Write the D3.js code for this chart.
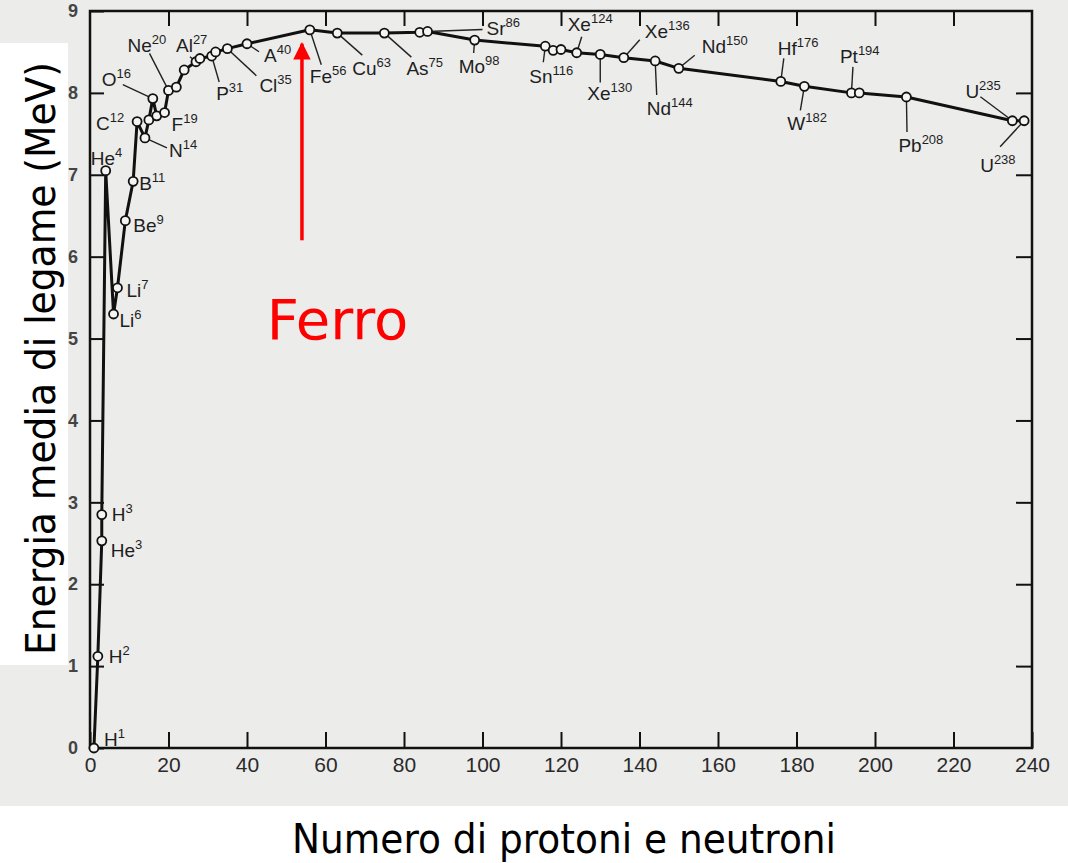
<!DOCTYPE html>
<html>
<head>
<meta charset="utf-8">
<script src="https://cdn.jsdelivr.net/npm/d3@7"></script>
<style>
  body { margin: 0; background: #ffffff; }
  svg { display: block; }
  .tick text { font-family: "Liberation Sans", Arial, sans-serif; fill: #2a2a2a; }
  .tick line { stroke: #111; stroke-width: 2; }
  .axis path.domain { display: none; }
  .iso { font-family: "Liberation Sans", Arial, sans-serif; fill: #1e1e1e; }
</style>
</head>
<body>
<svg id="chart" width="1068" height="863"></svg>
<script>
// numero di massa (A) e energia di legame media per nucleone (MeV)
var massNumbers = [1, 2, 3, 3, 4, 6, 7, 9, 11, 12, 14, 15, 16, 17, 19, 20, 22, 24, 27, 28,
    31, 32, 35, 40, 56, 63, 75, 84, 86, 98, 116, 118, 120, 124, 130, 136, 144, 150, 176, 182,
    194, 196, 208, 235, 238];
var bindingEnergy = [0, 1.12, 2.53, 2.85, 7.05, 5.30, 5.62, 6.44, 6.92, 7.65, 7.45, 7.67, 7.93, 7.72, 7.76, 8.03, 8.07, 8.28, 8.38, 8.42,
    8.45, 8.50, 8.54, 8.60, 8.77, 8.73, 8.73, 8.74, 8.75, 8.645, 8.57, 8.52, 8.53, 8.49, 8.47, 8.43, 8.39, 8.30, 8.14, 8.08,
    8.00, 8.00, 7.95, 7.66, 7.66];
var symbols = ["H", "H", "He", "H", "He", "Li", "Li", "Be", "B", "C", "N", "", "O", "", "F", "Ne", "", "", "Al", "",
    "P", "", "Cl", "A", "Fe", "Cu", "As", "", "Sr", "Mo", "Sn", "", "", "Xe", "Xe", "Xe", "Nd", "Nd", "Hf", "W",
    "Pt", "", "Pb", "U", "U"];

var xTicks = [0, 20, 40, 60, 80, 100, 120, 140, 160, 180, 200, 220, 240];
var yTicks = [0, 1, 2, 3, 4, 5, 6, 7, 8, 9];

// posizione delle etichette: [dx, dy, fine del trattino dx, dy] in pixel dal punto
var labelLayout = {
    "H1": [10, -2], "H2": [11, 7], "He3": [9, 16], "H3": [10, 6], "He4": [-15, -6],
    "Li6": [6, 13], "Li7": [9, 9], "Be9": [8, 11], "B11": [6, 9], "C12": [-41, 8.5],
    "N14": [24, 19, 22, 10], "O16": [-51, -13, -30, -14], "F19": [7, 18],
    "Ne20": [-41, -38, -19, -37], "Al27": [-20, -10, -6, -5], "P31": [4.5, 44, 7.5, 26],
    "Cl35": [32, 43, 29, 27], "A40": [17, 18, 12, 8], "Fe56": [0, 53, 11.5, 35],
    "Cu63": [15, 42, 25, 22], "As75": [22, 42, 27, 24], "Sr86": [59, 4, 55, -2],
    "Mo98": [-16, 33, -1, 13], "Sn116": [-16, 37, -2, 16], "Xe124": [-9, -22, 5, -16],
    "Xe130": [-13, 46, 0, 28], "Xe136": [21, -20, 16, -18], "Nd144": [-8.5, 54, 1.5, 34],
    "Nd150": [23, -15, 16, -13], "Hf176": [-3, -26, 3, -23], "W182": [-17, 44, -4, 24],
    "Pt194": [-11.5, -30, 1.5, -26], "Pb208": [-8, 55, 0.6, 35],
    "U235": [-47, -23, -32, -24], "U238": [-44, 51, -24, 26]
};

var data = massNumbers.map(function (a, i) {
    return {a: a, e: bindingEnergy[i], sym: symbols[i]};
});

var svg = d3.select("#chart"),
    width = +svg.attr("width"),
    height = +svg.attr("height"),
    margin = {top: 11, right: 36, bottom: 115, left: 90};

var x = d3.scaleLinear()
    .domain([0, 240])
    .range([margin.left, width - margin.right]);

var y = d3.scaleLinear()
    .domain([0, 9])
    .range([height - margin.bottom, margin.top]);

// sfondo "scansione"
svg.append("rect").attr("width", width).attr("height", height).attr("fill", "#ececeb");
svg.append("rect").attr("x", 0).attr("y", 43).attr("width", 68).attr("height", 622).attr("fill", "#fff");
svg.append("rect").attr("x", 0).attr("y", 806).attr("width", width).attr("height", height - 806).attr("fill", "#fff");

// assi con tacche verso l'interno
svg.append("g")
    .attr("class", "axis")
    .attr("transform", "translate(0," + y(0) + ")")
    .call(d3.axisBottom(x).tickValues(xTicks).tickSizeInner(-16).tickSizeOuter(0).tickPadding(9))
    .selectAll("text").style("font-size", "21px");

svg.append("g")
    .attr("class", "axis")
    .attr("transform", "translate(0," + y(9) + ")")
    .call(d3.axisTop(x).tickValues(xTicks.slice(1, -1)).tickSizeInner(-15).tickSizeOuter(0).tickFormat(""));

svg.append("g")
    .attr("class", "axis")
    .attr("transform", "translate(" + x(0) + ",0)")
    .call(d3.axisLeft(y).tickValues(yTicks).tickSizeInner(-14).tickSizeOuter(0).tickPadding(12))
    .selectAll("text").style("font-size", "18px").style("font-weight", "bold").style("fill", "#444");

svg.append("g")
    .attr("class", "axis")
    .attr("transform", "translate(" + x(240) + ",0)")
    .call(d3.axisRight(y).tickValues(yTicks.slice(1, -1)).tickSizeInner(-16).tickSizeOuter(0).tickFormat(""));

svg.append("rect")
    .attr("x", x(0))
    .attr("y", y(9))
    .attr("width", x(240) - x(0))
    .attr("height", y(0) - y(9))
    .attr("fill", "none")
    .attr("stroke", "#111")
    .attr("stroke-width", 2.5);

// curva
var line = d3.line()
    .x(function (d) { return x(d.a); })
    .y(function (d) { return y(d.e); });

svg.append("path")
    .datum(data)
    .attr("d", line)
    .attr("fill", "none")
    .attr("stroke", "#111")
    .attr("stroke-width", 3)
    .attr("stroke-linejoin", "round");

// etichette con trattini
var labelled = data.filter(function (d) { return d.sym !== ""; });

labelled.forEach(function (d) {
    var lay = labelLayout[d.sym + d.a];
    if (!lay) return;
    var px = x(d.a), py = y(d.e);
    if (lay.length > 2) {
        svg.append("line")
            .attr("x1", px).attr("y1", py)
            .attr("x2", px + lay[2]).attr("y2", py + lay[3])
            .attr("stroke", "#222")
            .attr("stroke-width", 1.4);
    }
    var t = svg.append("text")
        .attr("class", "iso")
        .attr("x", px + lay[0])
        .attr("y", py + lay[1])
        .style("font-size", "19px");
    t.append("tspan").text(d.sym);
    t.append("tspan")
        .attr("dy", -8)
        .style("font-size", "13px")
        .text(d.a);
});

svg.selectAll("circle.pt")
    .data(data)
    .enter()
    .append("circle")
    .attr("class", "pt")
    .attr("cx", function (d) { return x(d.a); })
    .attr("cy", function (d) { return y(d.e); })
    .attr("r", 4.5)
    .attr("fill", "#f4f4f2")
    .attr("stroke", "#111")
    .attr("stroke-width", 1.8);

// freccia "Ferro"
svg.append("defs").append("marker")
    .attr("id", "head")
    .attr("viewBox", "0 0 10 10")
    .attr("refX", 9).attr("refY", 5)
    .attr("markerWidth", 5).attr("markerHeight", 6)
    .attr("orient", "auto")
    .append("path")
    .attr("d", "M0,0 L10,5 L0,10 Z")
    .attr("fill", "#ff0000");

svg.append("line")
    .attr("x1", x(54)).attr("y1", y(6.2))
    .attr("x2", x(54)).attr("y2", y(8.6))
    .attr("stroke", "#ff0000")
    .attr("stroke-width", 3.5)
    .attr("marker-end", "url(#head)");

svg.append("text")
    .attr("x", x(45))
    .attr("y", y(5.0))
    .attr("fill", "#ff0000")
    .style("font-family", "'DejaVu Sans', Verdana, sans-serif")
    .style("font-size", "56px")
    .text("Ferro");

// titoli assi
svg.append("text")
    .attr("x", 292)
    .attr("y", 853)
    .attr("textLength", 544)
    .attr("lengthAdjust", "spacingAndGlyphs")
    .style("font-family", "'DejaVu Sans', Verdana, sans-serif")
    .style("font-size", "40px")
    .attr("fill", "#000")
    .text("Numero di protoni e neutroni");

svg.append("text")
    .attr("transform", "translate(55,655) rotate(-90)")
    .attr("textLength", 593)
    .attr("lengthAdjust", "spacingAndGlyphs")
    .style("font-family", "'DejaVu Sans', Verdana, sans-serif")
    .style("font-size", "40px")
    .attr("fill", "#000")
    .text("Energia media di legame (MeV)");
</script>
</body>
</html>
